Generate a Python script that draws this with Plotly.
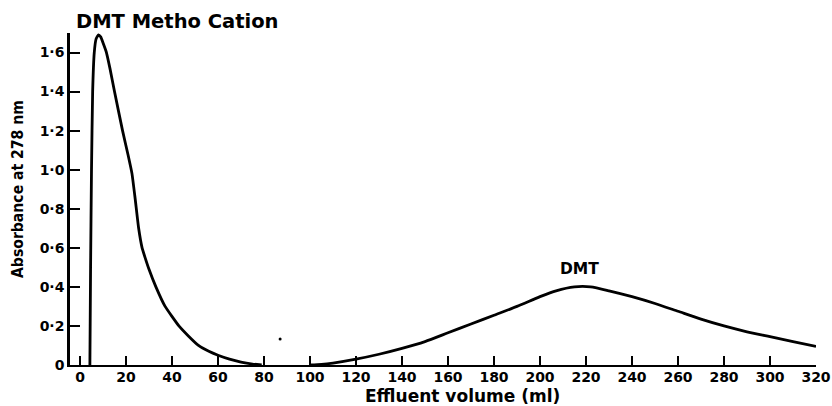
import plotly.graph_objects as go

# ---- data ----
cation_ml = [4.3, 4.6, 5.0, 5.5, 6.2, 7.0, 8.0, 9.0, 10.0, 11.5, 13.0, 15.0, 18.5,
             21.0, 22.6, 24.0, 25.5, 27.0, 28.3, 30.0, 33.0, 37.0, 43.0, 47.0, 51.5,
             56.0, 60.0, 65.0, 70.0, 75.0, 79.0]
cation_abs = [0.0, 0.5, 1.0, 1.4, 1.6, 1.67, 1.69, 1.68, 1.65, 1.6, 1.52, 1.40, 1.2,
              1.07, 0.98, 0.85, 0.70, 0.60, 0.55, 0.49, 0.40, 0.30, 0.20, 0.15, 0.10,
              0.07, 0.05, 0.03, 0.015, 0.005, 0.0]

dmt_ml = [100, 105, 110, 120, 130, 140, 150, 160, 170, 180, 190, 200, 207, 215,
          222, 230, 240, 250, 260, 270, 280, 290, 300, 310, 320]
dmt_abs = [0.0, 0.003, 0.01, 0.03, 0.055, 0.085, 0.12, 0.165, 0.21, 0.255, 0.30,
           0.35, 0.38, 0.40, 0.40, 0.38, 0.35, 0.315, 0.275, 0.235, 0.20, 0.17,
           0.145, 0.12, 0.095]

speck_ml = [87]
speck_abs = [0.133]

x_tick_vals = list(range(0, 321, 20))
x_tick_text = [str(v) for v in x_tick_vals]
y_tick_vals = [0, 0.2, 0.4, 0.6, 0.8, 1.0, 1.2, 1.4, 1.6]
y_tick_text = ["0", "0·2", "0·4", "0·6", "0·8", "1·0", "1·2", "1·4", "1·6"]

peak_labels = ["DMT Metho Cation", "DMT"]
x_title = "Effluent volume (ml)"
y_title = "Absorbance at 278 nm"

FONT = "DejaVu Sans"

fig = go.Figure()
fig.add_trace(go.Scatter(x=cation_ml, y=cation_abs, mode="lines",
                         line=dict(color="black", width=2.8, shape="spline", smoothing=0.4),
                         showlegend=False, hoverinfo="skip"))
fig.add_trace(go.Scatter(x=dmt_ml, y=dmt_abs, mode="lines",
                         line=dict(color="black", width=2.8, shape="spline", smoothing=0.6),
                         showlegend=False, hoverinfo="skip"))
fig.add_trace(go.Scatter(x=speck_ml, y=speck_abs, mode="markers",
                         marker=dict(color="black", size=3),
                         showlegend=False, hoverinfo="skip"))

fig.update_layout(
    width=832, height=406,
    margin=dict(l=70, r=16, t=33, b=41),
    paper_bgcolor="white", plot_bgcolor="white",
    font=dict(family=FONT, color="black"),
    xaxis=dict(range=[-4.35, 320], showline=True, linecolor="black", linewidth=2,
               ticks="inside", ticklen=9, tickwidth=2, tickcolor="black",
               tickvals=x_tick_vals, ticktext=x_tick_text, automargin=False,
               ticklabelstandoff=-2,
               tickfont=dict(family=FONT, size=14, weight="bold", color="black"),
               showgrid=False, zeroline=False),
    yaxis=dict(range=[0, 1.70], showline=True, linecolor="black", linewidth=2.5,
               ticks="inside", ticklen=10, tickwidth=2, tickcolor="black",
               tickvals=y_tick_vals, ticktext=y_tick_text, automargin=False,
               tickfont=dict(family=FONT, size=14, weight="bold", color="black"),
               showgrid=False, zeroline=False),
    annotations=[
        dict(text=peak_labels[0], xref="paper", yref="paper", x=0.1434, y=1.0346,
             xanchor="center", yanchor="middle", showarrow=False,
             font=dict(family=FONT, size=19.5, weight="bold", color="black")),
        dict(text=peak_labels[1], xref="x", yref="y", x=217, y=0.49,
             xanchor="center", yanchor="middle", showarrow=False,
             font=dict(family=FONT, size=15.5, weight="bold", color="black")),
        dict(text=x_title, xref="paper", yref="paper", x=0.5268, y=-0.0934,
             xanchor="center", yanchor="middle", showarrow=False, borderpad=0,
             font=dict(family=FONT, size=17, weight="bold", color="black")),
        dict(text=y_title, xref="paper", yref="paper", x=-0.0704, y=0.5316,
             xanchor="center", yanchor="middle", showarrow=False, textangle=-90,
             font=dict(family="DejaVu Sans Condensed, DejaVu Sans", size=15.6,
                       weight="bold", color="black")),
    ],
)

fig.write_html("out.html", config={"displayModeBar": False},
               post_script="document.body.style.margin='0';")
